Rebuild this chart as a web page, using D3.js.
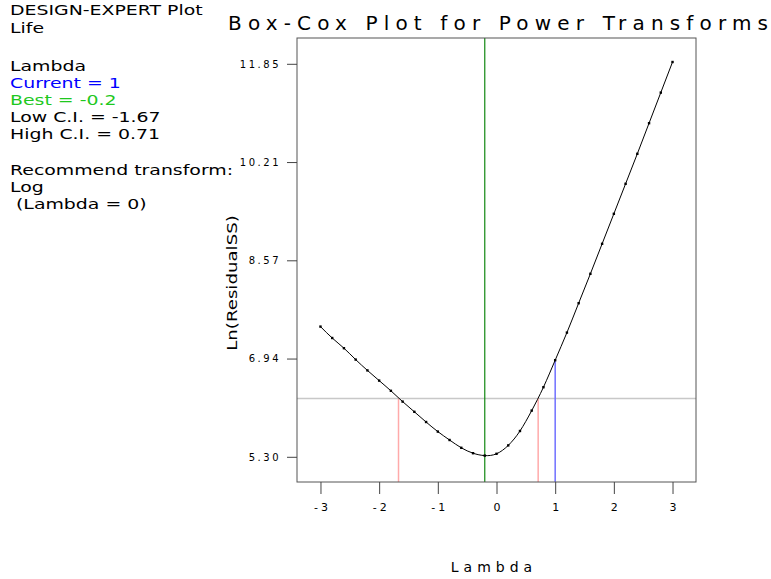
<!DOCTYPE html>
<html>
<head>
<meta charset="utf-8">
<script src="https://cdn.jsdelivr.net/npm/d3@7"></script>
<style>
  html, body { margin: 0; padding: 0; background: #fff; }
  svg { display: block; }
  text { font-family: "DejaVu Sans", Verdana, sans-serif; }
</style>
</head>
<body>
<svg id="chart" width="771" height="579"></svg>
<script>
// ---- data ----
const lambdas = [-3, -2.8, -2.6, -2.4, -2.2, -2.0, -1.8, -1.6, -1.4, -1.2, -1.0, -0.8, -0.6, -0.4, -0.2,
                 0, 0.2, 0.4, 0.6, 0.8, 1.0, 1.2, 1.4, 1.6, 1.8, 2.0, 2.2, 2.4, 2.6, 2.8, 3.0];
const lnResidualSS = [7.47, 7.28, 7.11, 6.92, 6.74, 6.57, 6.40, 6.22, 6.05, 5.88, 5.72, 5.58, 5.45, 5.36, 5.32,
                      5.35, 5.49, 5.73, 6.07, 6.46, 6.91, 7.37, 7.86, 8.35, 8.85, 9.35, 9.85, 10.35, 10.86, 11.37, 11.88];
const xTicks = [-3, -2, -1, 0, 1, 2, 3];
const xTickLabels = ["-3", "-2", "-1", "0", "1", "2", "3"];
const yTicks = [5.30, 6.9375, 8.575, 10.2125, 11.85];
const yTickLabels = ["5.30", "6.94", "8.57", "10.21", "11.85"];
const currentLambda = 1;
const bestLambda = -0.2;
const lowCI = -1.67;
const highCI = 0.71;
const ciLevel = 6.27;
const infoLines = [
  {t: "DESIGN-EXPERT Plot", c: "#000"},
  {t: "Life", c: "#000"},
  {t: "", c: "#000"},
  {t: "Lambda", c: "#000"},
  {t: "Current = 1", c: "#0000ff"},
  {t: "Best = -0.2", c: "#1ec81e"},
  {t: "Low C.I. = -1.67", c: "#000"},
  {t: "High C.I. = 0.71", c: "#000"},
  {t: "", c: "#000"},
  {t: "Recommend transform:", c: "#000"},
  {t: "Log", c: "#000"},
  {t: " (Lambda = 0)", c: "#000"}
];

// ---- layout ----
const svg = d3.select("#chart");
const L = 297, R = 696, T = 38, B = 482;
const x = d3.scaleLinear().domain([-3.4, 3.4]).range([L, R]);
const y = d3.scaleLinear().domain([4.88, 12.28]).range([B, T]);

// info text
const info = svg.append("g");
const baselines = [15, 33, 53, 71, 88, 105, 122, 139, 158, 175, 192, 209];
infoLines.forEach((d, i) => {
  if (!d.t) return;
  info.append("text")
    .attr("transform", `translate(10,${baselines[i]}) scale(1.4,1)`)
    .attr("font-size", 13.5)
    .attr("fill", d.c)
    .attr("xml:space", "preserve")
    .style("white-space", "pre")
    .text(d.t);
});

// title
svg.append("text")
  .attr("x", 228).attr("y", 30)
  .attr("font-size", 20)
  .attr("textLength", 540)
  .attr("lengthAdjust", "spacing")
  .attr("fill", "#000")
  .text("Box-Cox Plot for Power Transforms");

// CI horizontal line
svg.append("line")
  .attr("x1", L).attr("x2", R)
  .attr("y1", y(ciLevel)).attr("y2", y(ciLevel))
  .attr("stroke", "#c8c8c8").attr("stroke-width", 1.5);

// best lambda vertical (green)
svg.append("line")
  .attr("x1", x(bestLambda)).attr("x2", x(bestLambda))
  .attr("y1", T).attr("y2", B)
  .attr("stroke", "#118811").attr("stroke-width", 1.2);

// CI vertical lines (pink)
[lowCI, highCI].forEach(v => {
  svg.append("line")
    .attr("x1", x(v)).attr("x2", x(v))
    .attr("y1", y(ciLevel)).attr("y2", B)
    .attr("stroke", "#ffaaaa").attr("stroke-width", 1.5);
});

// current lambda (blue)
const curIdx = lambdas.indexOf(currentLambda);
svg.append("line")
  .attr("x1", x(currentLambda)).attr("x2", x(currentLambda))
  .attr("y1", y(lnResidualSS[curIdx])).attr("y2", B)
  .attr("stroke", "#7070ff").attr("stroke-width", 1.5);

// curve
const pts = lambdas.map((l, i) => [l, lnResidualSS[i]]);
svg.append("path")
  .datum(pts)
  .attr("fill", "none")
  .attr("stroke", "#000")
  .attr("stroke-width", 1)
  .attr("d", d3.line().x(d => x(d[0])).y(d => y(d[1])).curve(d3.curveNatural));

svg.append("g").selectAll("rect").data(pts).join("rect")
  .attr("x", d => x(d[0]) - 1.2).attr("y", d => y(d[1]) - 1.2)
  .attr("width", 2.4).attr("height", 2.4)
  .attr("fill", "#000");

// frame
svg.append("rect")
  .attr("x", L).attr("y", T).attr("width", R - L).attr("height", B - T)
  .attr("fill", "none").attr("stroke", "#555").attr("stroke-width", 1);

// x axis
const xAxis = d3.axisBottom(x).tickValues(xTicks).tickSize(12).tickPadding(9)
  .tickFormat((d, i) => xTickLabels[i]);
const gx = svg.append("g").attr("transform", `translate(0,${B})`).call(xAxis);
gx.select(".domain").remove();
gx.selectAll(".tick line").attr("stroke", "#444");
gx.selectAll(".tick text").attr("font-size", 11).attr("fill", "#000")
  .attr("font-family", "DejaVu Sans")
  .style("letter-spacing", "3px")
  .attr("dx", 1.5);

// y axis
const yAxis = d3.axisLeft(y).tickValues(yTicks).tickSize(10).tickPadding(6)
  .tickFormat((d, i) => yTickLabels[i]);
const gy = svg.append("g").attr("transform", `translate(${L},0)`).call(yAxis);
gy.select(".domain").remove();
gy.selectAll(".tick line").attr("stroke", "#444");
gy.selectAll(".tick text").attr("font-size", 10).attr("fill", "#000")
  .attr("font-family", "DejaVu Sans")
  .style("letter-spacing", "2.5px");

// axis titles
svg.append("text")
  .attr("transform", `translate(494,572)`)
  .attr("text-anchor", "middle")
  .attr("font-size", 14)
  .style("letter-spacing", "5px")
  .text("Lambda");

svg.append("text")
  .attr("transform", `translate(237,283) rotate(-90) scale(1.3,1)`)
  .attr("text-anchor", "middle")
  .attr("font-size", 14)
  .text("Ln(ResidualSS)");
</script>
</body>
</html>
